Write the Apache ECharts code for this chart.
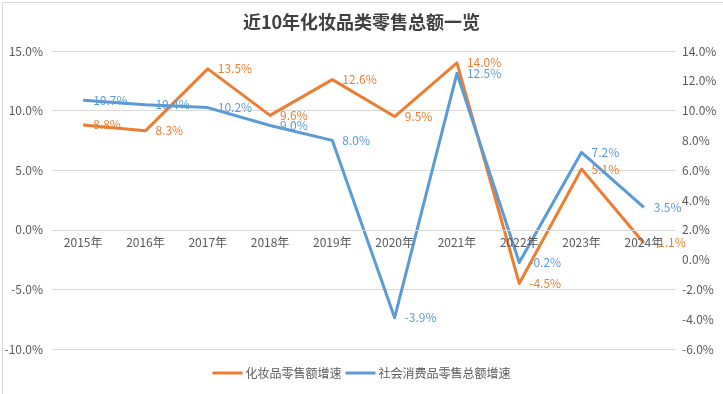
<!DOCTYPE html>
<html>
<head>
<meta charset="utf-8">
<script src="https://cdn.jsdelivr.net/npm/echarts@6/dist/echarts.min.js"></script>
<style>
html,body{margin:0;padding:0;background:#fff;}
#c{width:723px;height:394px;}
</style>
</head>
<body>
<div id="c"></div>
<script>
var titleText = '近10年化妆品类零售总额一览';
var categories = ['2015年','2016年','2017年','2018年','2019年','2020年','2021年','2022年','2023年','2024年'];
var cosmeticsName = '化妆品零售额增速';
var cosmeticsGrowth = [8.8, 8.3, 13.5, 9.6, 12.6, 9.5, 14.0, -4.5, 5.1, -1.1];
var retailName = '社会消费品零售总额增速';
var retailGrowth = [10.7, 10.4, 10.2, 9.0, 8.0, -3.9, 12.5, -0.2, 7.2, 3.5];
var leftTicks = {min: -10, max: 15, interval: 5};
var rightTicks = {min: -6, max: 14, interval: 2};

var chart = echarts.init(document.getElementById('c'), null, {renderer: 'canvas'});
var fontFam = '"Noto Sans CJK SC", "Noto Sans", sans-serif';
var pct = function (v) { return Number(v).toFixed(1) + '%'; };
var gridBottom = 45;
chart.setOption({
  animation: false,
  textStyle: {fontFamily: fontFam},
  title: {
    text: titleText,
    left: 'center',
    top: 8,
    textStyle: {fontSize: 18, fontWeight: 'bold', color: '#404040', fontFamily: fontFam}
  },
  graphic: [{
    type: 'rect', left: 0, top: 0, z: -10,
    shape: {x: 0.5, y: 0.5, width: 722, height: 393},
    style: {fill: 'none', stroke: '#d9d9d9', lineWidth: 1}
  }],
  legend: {
    bottom: 10,
    left: 'center',
    itemWidth: 30,
    itemHeight: 3,
    itemGap: 4,
    icon: 'rect',
    textStyle: {fontSize: 12, color: '#595959', padding: [0, 0, 0, -2]},
    data: [cosmeticsName, retailName]
  },
  grid: {left: 52, right: 48, top: 51, bottom: gridBottom, containLabel: false},
  xAxis: {
    type: 'category',
    data: categories,
    boundaryGap: true,
    position: 'bottom',
    offset: 0,
    z: 6,
    axisLine: {onZero: false, lineStyle: {color: '#d9d9d9'}},
    axisTick: {show: false},
    axisLabel: {color: '#595959', fontSize: 12, margin: 7}
  },
  yAxis: [{
    type: 'value',
    min: leftTicks.min, max: leftTicks.max, interval: leftTicks.interval,
    axisLine: {show: false},
    axisTick: {show: false},
    splitLine: {lineStyle: {color: '#d9d9d9', width: 1}},
    axisLabel: {color: '#595959', fontSize: 12, margin: 9, formatter: pct}
  }, {
    type: 'value',
    min: rightTicks.min, max: rightTicks.max, interval: rightTicks.interval,
    axisLine: {show: false},
    axisTick: {show: false},
    splitLine: {show: false},
    axisLabel: {color: '#595959', fontSize: 12, margin: 7, formatter: pct}
  }],
  series: [{
    name: cosmeticsName,
    type: 'line',
    yAxisIndex: 0,
    data: cosmeticsGrowth,
    showSymbol: true,
    symbol: 'circle',
    symbolSize: 0,
    color: '#ED7D31',
    lineStyle: {width: 3, color: '#ED7D31', join: 'round'},
    label: {show: true, position: 'right', distance: 10, color: '#ED7D31', fontSize: 12, formatter: function (p) { return pct(p.value); }},
    z: 3
  }, {
    name: retailName,
    type: 'line',
    yAxisIndex: 1,
    data: retailGrowth,
    showSymbol: true,
    symbol: 'circle',
    symbolSize: 0,
    color: '#5B9BD5',
    lineStyle: {width: 3, color: '#5B9BD5', join: 'round'},
    label: {show: true, position: 'right', distance: 10, color: '#5B9BD5', fontSize: 12, formatter: function (p) { return pct(p.value); }},
    z: 4
  }]
});
// Move the category axis to the left axis' zero line, using the library's scale
var zeroY = chart.convertToPixel({yAxisIndex: 0}, 0);
var bottomY = chart.getHeight() - gridBottom;
chart.setOption({xAxis: {offset: zeroY - bottomY}});
</script>
</body>
</html>
